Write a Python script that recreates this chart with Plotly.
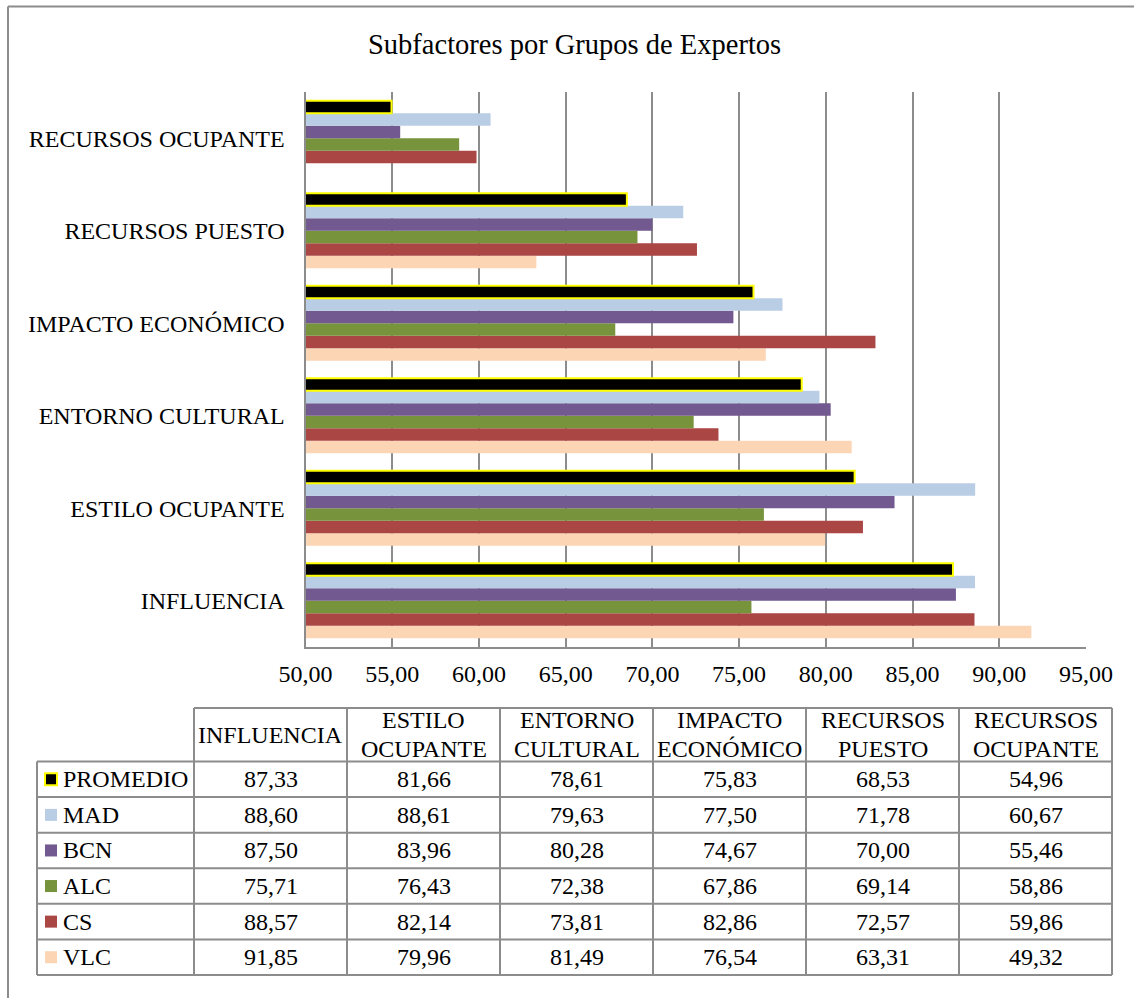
import plotly.graph_objects as go

# ---- data -------------------------------------------------------------
categories = ["INFLUENCIA", "ESTILO OCUPANTE", "ENTORNO CULTURAL",
              "IMPACTO ECONÓMICO", "RECURSOS PUESTO", "RECURSOS OCUPANTE"]
groups = ["PROMEDIO", "MAD", "BCN", "ALC", "CS", "VLC"]

promedio = [87.33, 81.66, 78.61, 75.83, 68.53, 54.96]
mad = [88.60, 88.61, 79.63, 77.50, 71.78, 60.67]
bcn = [87.50, 83.96, 80.28, 74.67, 70.00, 55.46]
alc = [75.71, 76.43, 72.38, 67.86, 69.14, 58.86]
cs = [88.57, 82.14, 73.81, 82.86, 72.57, 59.86]
vlc = [91.85, 79.96, 81.49, 76.54, 63.31, 49.32]

x_ticks = [50, 55, 60, 65, 70, 75, 80, 85, 90, 95]

title_text = "Subfactores por Grupos de Expertos"

# ---- styling ----------------------------------------------------------
W, H = 1134, 998
FONT = "Liberation Serif, Times New Roman, serif"
GRID = "#8C8C8C"
colors = {"PROMEDIO": "#000000", "MAD": "#B9CDE5", "BCN": "#72598F",
          "ALC": "#77933C", "CS": "#AA4644", "VLC": "#FCD5B5"}
outline = {"PROMEDIO": ("#FFFF00", 2)}

series = {"PROMEDIO": promedio, "MAD": mad, "BCN": bcn,
          "ALC": alc, "CS": cs, "VLC": vlc}


def px(x):
    return x / W


def py(y):
    return 1 - y / H


# plot area in pixels
PL, PR, PT, PB = 305.5, 1086, 92, 647

fig = go.Figure()

# first trace sits at the bottom of each group, so add in reverse order
for g in reversed(groups):
    lc, lw = outline.get(g, ("rgba(0,0,0,0)", 0))
    fig.add_trace(go.Bar(
        y=categories, x=series[g], name=g, orientation="h",
        marker=dict(color=colors[g], line=dict(color=lc, width=lw)),
        showlegend=False,
    ))

fig.update_layout(
    width=W, height=H,
    margin=dict(l=0, r=0, t=0, b=0),
    paper_bgcolor="white", plot_bgcolor="white",
    barmode="group", bargap=0.19, bargroupgap=0,
    separators=",.",
    font=dict(family=FONT, size=24, color="black"),
    showlegend=False,
    xaxis=dict(domain=[px(PL), px(PR)], range=[50, 95],
               tickvals=x_ticks, tickformat=".2f",
               showgrid=True, gridcolor=GRID, gridwidth=2,
               showline=True, linecolor=GRID, linewidth=2,
               zeroline=False, ticks="", ticklabelstandoff=4,
               automargin=False, fixedrange=True),
    yaxis=dict(domain=[py(PB), py(PT)], type="category",
               categoryorder="array", categoryarray=categories,
               showgrid=False, showline=True, linecolor=GRID, linewidth=2,
               ticks="", ticklabelstandoff=14,
               automargin=False, fixedrange=True),
)

shapes = []
annotations = []

# outer chart frame (left and top edges)
shapes.append(dict(type="line", xref="paper", yref="paper",
                   x0=px(8), x1=px(W + 5), y0=py(6.5), y1=py(6.5),
                   line=dict(color=GRID, width=2)))
shapes.append(dict(type="line", xref="paper", yref="paper",
                   x0=px(8), x1=px(8), y0=py(6.5), y1=py(H + 5),
                   line=dict(color=GRID, width=2)))

# title
annotations.append(dict(text=title_text, xref="paper", yref="paper",
                        x=px(574.5), y=py(45), xanchor="center",
                        yanchor="middle", showarrow=False,
                        font=dict(size=28.5, family=FONT)))

# ---- data table ------------------------------------------------------
TL, T0, TR = 37, 194, 1112          # left, first data column, right
TT, HB, TB = 708, 761.5, 975        # top, header bottom, bottom
ncol = len(categories)
colw = (TR - T0) / ncol
rowh = (TB - HB) / len(groups)
col_x = [T0 + i * colw for i in range(ncol + 1)]
row_y = [HB + j * rowh for j in range(len(groups) + 1)]
line_style = dict(color=GRID, width=2)

# header top
shapes.append(dict(type="line", xref="paper", yref="paper",
                   x0=px(T0), x1=px(TR), y0=py(TT), y1=py(TT), line=line_style))
# row separators
for y in row_y:
    shapes.append(dict(type="line", xref="paper", yref="paper",
                       x0=px(TL), x1=px(TR), y0=py(y), y1=py(y), line=line_style))
# column separators
for x in col_x:
    shapes.append(dict(type="line", xref="paper", yref="paper",
                       x0=px(x), x1=px(x), y0=py(TT), y1=py(TB), line=line_style))
shapes.append(dict(type="line", xref="paper", yref="paper",
                   x0=px(TL), x1=px(TL), y0=py(HB), y1=py(TB), line=line_style))

# header labels, wrapped at the first space
LINE_GAP = 29
for i, cat in enumerate(categories):
    parts = cat.split(" ", 1)
    cx = (col_x[i] + col_x[i + 1]) / 2
    cy = (TT + HB) / 2
    n = len(parts)
    for k, part in enumerate(parts):
        yy = cy + (k - (n - 1) / 2) * LINE_GAP
        annotations.append(dict(text=part, xref="paper", yref="paper",
                                x=px(cx), y=py(yy), xanchor="center",
                                yanchor="middle", showarrow=False))

# rows: legend key, group name and values
for j, g in enumerate(groups):
    cy = (row_y[j] + row_y[j + 1]) / 2
    lc, lw = outline.get(g, (colors[g], 0))
    shapes.append(dict(type="rect", xref="paper", yref="paper",
                       x0=px(45), x1=px(57), y0=py(cy - 6), y1=py(cy + 6),
                       fillcolor=colors[g],
                       line=dict(color=lc, width=lw)))
    annotations.append(dict(text=g, xref="paper", yref="paper",
                            x=px(61), y=py(cy), xanchor="left",
                            yanchor="middle", showarrow=False))
    for i, v in enumerate(series[g]):
        cx = (col_x[i] + col_x[i + 1]) / 2
        annotations.append(dict(text=f"{v:.2f}".replace(".", ","),
                                xref="paper", yref="paper",
                                x=px(cx), y=py(cy), xanchor="center",
                                yanchor="middle", showarrow=False))

fig.update_layout(shapes=shapes, annotations=annotations)

fig.write_html("out.html")
